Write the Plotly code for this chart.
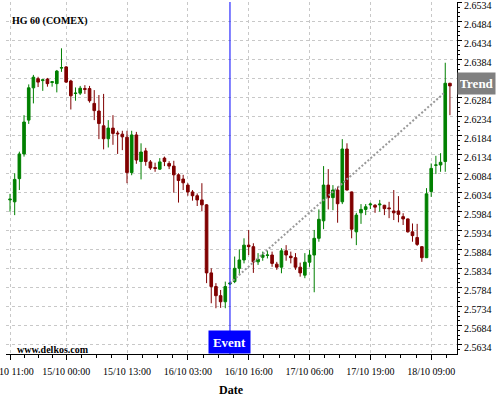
import plotly.graph_objects as go

# ---- data ----
open_ = [2.6015, 2.6010, 2.6071, 2.6136, 2.6225, 2.6310, 2.6334, 2.6329, 2.6333, 2.6324,
         2.6321, 2.6362, 2.6365, 2.6328, 2.6295, 2.6296, 2.6308, 2.6308, 2.6269, 2.6249,
         2.6210, 2.6176, 2.6204, 2.6191, 2.6188, 2.6180, 2.6087, 2.6186, 2.6116, 2.6144,
         2.6115, 2.6100, 2.6096, 2.6125, 2.6111, 2.6104, 2.6081, 2.6070, 2.6054, 2.6036,
         2.6026, 2.6015, 2.6002, 2.5823, 2.5787, 2.5763, 2.5747, 2.5794, 2.5800, 2.5835,
         2.5857, 2.5896, 2.5892, 2.5852, 2.5864, 2.5869, 2.5870, 2.5846, 2.5838, 2.5881,
         2.5867, 2.5863, 2.5838, 2.5817, 2.5851, 2.5870, 2.5914, 2.5960, 2.6054, 2.6021,
         2.6041, 2.6010, 2.6149, 2.6036, 2.5931, 2.5981, 2.5990, 2.6002, 2.6001, 2.6002,
         2.6001, 2.5994, 2.5986, 2.5986, 2.5971, 2.5965, 2.5931, 2.5916, 2.5892, 2.5863,
         2.6037, 2.6106, 2.6107, 2.6116, 2.6322]
high = [2.6031, 2.6085, 2.6142, 2.6238, 2.6319, 2.6344, 2.6339, 2.6332, 2.6336, 2.6328,
        2.6357, 2.6414, 2.6367, 2.6331, 2.6311, 2.6315, 2.6317, 2.6315, 2.6304, 2.6291,
        2.6294, 2.6225, 2.6238, 2.6197, 2.6197, 2.6197, 2.6197, 2.6194, 2.6164, 2.6152,
        2.6120, 2.6113, 2.6125, 2.6129, 2.6117, 2.6118, 2.6085, 2.6081, 2.6059, 2.6041,
        2.6032, 2.6059, 2.6004, 2.5835, 2.5796, 2.5778, 2.5800, 2.5799, 2.5866, 2.5885,
        2.5914, 2.5936, 2.5901, 2.5875, 2.5879, 2.5881, 2.5879, 2.5852, 2.5888, 2.5896,
        2.5879, 2.5875, 2.5850, 2.5875, 2.5883, 2.5936, 2.5990, 2.6104, 2.6096, 2.6054,
        2.6050, 2.6175, 2.6164, 2.6037, 2.5981, 2.6004, 2.6004, 2.6008, 2.6004, 2.6015,
        2.6002, 2.6010, 2.6041, 2.6025, 2.5980, 2.5966, 2.5953, 2.5952, 2.5893, 2.6046,
        2.6111, 2.6131, 2.6138, 2.6376, 2.6323]
low = [2.5984, 2.5975, 2.6041, 2.6129, 2.6215, 2.6269, 2.6312, 2.6302, 2.6313, 2.6313,
       2.6298, 2.6352, 2.6323, 2.6253, 2.6276, 2.6291, 2.6294, 2.6271, 2.6225, 2.6175,
       2.6148, 2.6153, 2.6160, 2.6136, 2.6146, 2.6059, 2.6080, 2.6110, 2.6069, 2.6105,
       2.6094, 2.6089, 2.6094, 2.6104, 2.6096, 2.6034, 2.6008, 2.6041, 2.6026, 2.6013,
       2.5999, 2.5985, 2.5796, 2.5743, 2.5730, 2.5731, 2.5730, 2.5791, 2.5796, 2.5817,
       2.5848, 2.5870, 2.5823, 2.5844, 2.5855, 2.5861, 2.5839, 2.5831, 2.5822, 2.5855,
       2.5848, 2.5831, 2.5813, 2.5809, 2.5839, 2.5772, 2.5905, 2.5938, 2.5990, 2.5988,
       2.5955, 2.6004, 2.6040, 2.5914, 2.5896, 2.5952, 2.5975, 2.5991, 2.5981, 2.5984,
       2.5975, 2.5967, 2.5962, 2.5956, 2.5949, 2.5929, 2.5905, 2.5894, 2.5852, 2.5862,
       2.6023, 2.6083, 2.6089, 2.6089, 2.6238]
close = [2.6017, 2.6069, 2.6136, 2.6220, 2.6310, 2.6338, 2.6325, 2.6331, 2.6321, 2.6326,
         2.6354, 2.6363, 2.6325, 2.6289, 2.6296, 2.6309, 2.6306, 2.6276, 2.6250, 2.6216,
         2.6176, 2.6204, 2.6190, 2.6189, 2.6181, 2.6087, 2.6186, 2.6120, 2.6141, 2.6116,
         2.6099, 2.6098, 2.6115, 2.6116, 2.6104, 2.6081, 2.6066, 2.6060, 2.6036, 2.6026,
         2.6015, 2.6002, 2.5823, 2.5787, 2.5763, 2.5747, 2.5787, 2.5796, 2.5835, 2.5857,
         2.5896, 2.5892, 2.5852, 2.5859, 2.5870, 2.5870, 2.5848, 2.5838, 2.5881, 2.5870,
         2.5863, 2.5838, 2.5823, 2.5851, 2.5870, 2.5914, 2.5964, 2.6054, 2.6021, 2.6041,
         2.6005, 2.6149, 2.6041, 2.5938, 2.5975, 2.5990, 2.5997, 2.6004, 2.5996, 2.6004,
         2.5992, 2.5992, 2.5981, 2.5977, 2.5965, 2.5931, 2.5921, 2.5898, 2.5863, 2.6031,
         2.6098, 2.6107, 2.6114, 2.6322, 2.6315]

tick_index = [0, 12, 25, 38, 51, 64, 77, 90]
tick_labels = ["14/10 11:00", "15/10 00:00", "15/10 13:00", "16/10 03:00",
               "16/10 16:00", "17/10 06:00", "17/10 19:00", "18/10 09:00"]
price_ticks = [2.5634, 2.5684, 2.5734, 2.5784, 2.5834, 2.5884, 2.5934, 2.5984, 2.6034,
               2.6084, 2.6134, 2.6184, 2.6234, 2.6284, 2.6334, 2.6384, 2.6434, 2.6484, 2.6534]

event_index = 47
trend_index = [47, 93]
trend_value = [2.5796, 2.6299]
trend_label_value = 2.6321

title_text = "HG 60 (COMEX)"
source_text = "www.delkos.com"

# ---- figure ----
x = list(range(len(open_)))
GREEN = "#008000"
RED = "#800000"
GRID = "#c8c8c8"
FONT = "Liberation Serif"

fig = go.Figure()
fig.add_trace(go.Candlestick(
    x=x, open=open_, high=high, low=low, close=close,
    increasing=dict(line=dict(color=GREEN, width=1), fillcolor=GREEN),
    decreasing=dict(line=dict(color=RED, width=1), fillcolor=RED),
    whiskerwidth=0, hoverinfo="skip", showlegend=False,
))
fig.add_trace(go.Scatter(
    x=trend_index, y=trend_value, mode="lines",
    line=dict(color="#999999", width=2, dash="2px,2px"),
    hoverinfo="skip", showlegend=False,
))

# minor ticks on x: three between each pair of labelled ticks, continuing at the right
minor_x = []
bounds = tick_index + [tick_index[-1] + 13]
for a, b in zip(bounds[:-1], bounds[1:]):
    for k in range(1, 4):
        minor_x.append(a + (b - a) * k / 4)

fig.add_shape(type="line", xref="x", yref="paper", x0=event_index, x1=event_index,
              y0=0, y1=1, line=dict(color="#0000ff", width=1), layer="above")

fig.update_layout(
    width=500, height=400,
    margin=dict(l=6, r=43, t=2, b=46),
    plot_bgcolor="white", paper_bgcolor="white",
    showlegend=False,
    font=dict(family=FONT, size=10, color="black"),
    boxgap=0.2,
    xaxis=dict(
        range=[-0.855, 95.51], tickmode="array", tickvals=tick_index, ticktext=tick_labels,
        ticks="outside", ticklen=5, tickcolor="black", tickwidth=1,
        showline=True, linecolor="black", linewidth=1,
        showgrid=True, gridcolor=GRID, griddash="3px,3px", gridwidth=1,
        zeroline=False, rangeslider=dict(visible=False), fixedrange=True,
        ticklabeloverflow="allow", automargin=False, ticklabelstandoff=3,
        tickfont=dict(family=FONT, size=10, color="black"),
        minor=dict(tickmode="array", tickvals=minor_x, ticks="outside", ticklen=3,
                   tickcolor="black", showgrid=False),
    ),
    yaxis=dict(
        side="right", range=[2.560953, 2.653585], tickmode="array",
        tickvals=price_ticks, ticktext=[f"{v:.4f}" for v in price_ticks],
        ticks="outside", ticklen=4, tickcolor="black", tickwidth=1,
        showline=True, linecolor="black", linewidth=1,
        showgrid=True, gridcolor=GRID, griddash="3px,3px", gridwidth=1,
        zeroline=False, fixedrange=True, ticklabeloverflow="allow", automargin=False,
        ticklabelshift=3,
        tickfont=dict(family=FONT, size=10, color="black"),
        minor=dict(dtick=0.00125, tick0=2.5634, ticks="outside", ticklen=2,
                   tickcolor="black", showgrid=False),
    ),
    annotations=[
        dict(text="<b>" + title_text + "</b>", xref="paper", yref="paper",
             x=0.0089, y=0.9466, xanchor="left", yanchor="middle", showarrow=False,
             font=dict(family=FONT, size=10, color="black")),
        dict(text="<b>" + source_text + "</b>", xref="paper", yref="paper",
             x=0.02, y=0.0142, xanchor="left", yanchor="middle", showarrow=False,
             font=dict(family=FONT, size=10, color="black")),
        dict(text="<b>Event</b>", xref="x", yref="paper", x=event_index, y=0,
             xanchor="center", yanchor="bottom", showarrow=False,
             bgcolor="#0000ff", width=37, height=18, borderpad=2,
             font=dict(family=FONT, size=13, color="white")),
        dict(text="<b>Trend</b>", xref="paper", yref="y", x=1, y=trend_label_value,
             xanchor="left", yanchor="middle", showarrow=False,
             bgcolor="#808080", width=33, height=17, borderpad=2,
             font=dict(family=FONT, size=13, color="white")),
        dict(text="<b>Date</b>", xref="paper", yref="paper", x=0.5, y=-0.102,
             xanchor="center", yanchor="middle", showarrow=False,
             font=dict(family=FONT, size=12, color="black")),
    ],
)

fig.write_html("out.html", config={"displayModeBar": False},
               post_script="document.body.style.margin='0';document.body.style.padding='0';")
